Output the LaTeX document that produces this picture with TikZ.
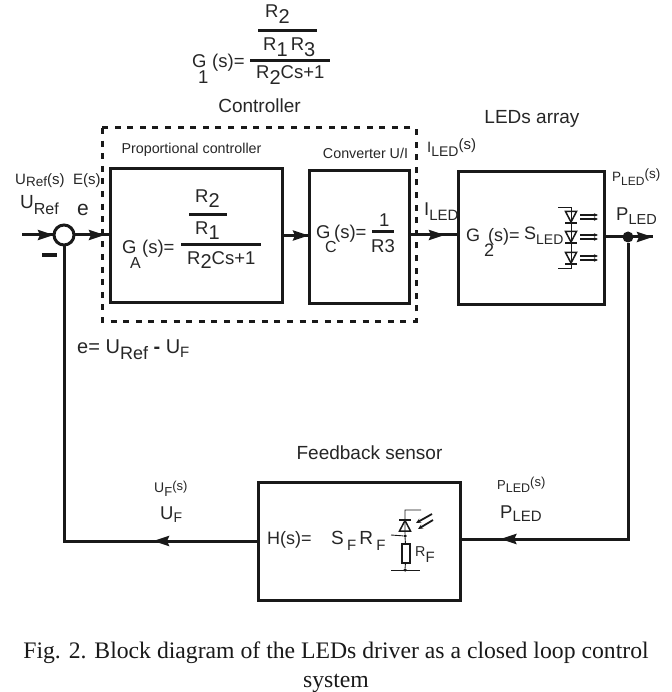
\documentclass[tikz,border=0pt]{standalone}
\usepackage{fontspec}
\setmainfont{Liberation Sans}
\newfontfamily\capfont{Liberation Serif}
\usetikzlibrary{arrows.meta, positioning, decorations.markings}

\newcommand{\fs}[1]{\fontsize{#1}{#1}\selectfont}
\newcommand{\dn}[3]{\raisebox{-#1pt}{\fs{#2}#3}}

\begin{document}
\begin{tikzpicture}[x=1pt, y=-1pt,
  block/.style={rectangle, draw=black!90, line width=3pt, outer sep=0pt, inner sep=0pt},
  wire/.style={draw=black!90, line width=3pt},
  tipat/.style={postaction={decorate}, decoration={markings,
    mark=at position #1 with {\arrow{Stealth[length=16pt,width=10pt,inset=2pt]}}}},
  txt/.style={inner sep=0pt, anchor=base west, text=black!85, font=\fs{18.5}},
  small/.style={txt, font=\fs{14.3}},
  bar/.style={fill=black!90, inner sep=0pt, minimum height=3pt},
  dot/.style={circle, fill=black!90, inner sep=0pt, minimum size=#1}
]
\useasboundingbox (0,0) rectangle (671,692);

% blocks
\node[block, minimum width=172pt, minimum height=133pt] (boxA) at (196,235.5) {};
\node[block, minimum width=100pt, minimum height=132pt, right=27pt of boxA, yshift=-1.5pt] (boxC) {};
\node[block, minimum width=146pt, minimum height=132pt, right=49pt of boxC, yshift=-1pt] (boxG) {};
\node[block, minimum width=202pt, minimum height=118pt] (boxH) at (359,541) {};
\node[circle, draw=black!90, line width=3pt, minimum size=20pt, inner sep=0pt, outer sep=0pt] (sum) at (64,235) {};
\node[dot=11pt] (jun) at (628,237) {};

% controller frame
\draw[line width=3pt, black!90, dash pattern=on 6pt off 6.6pt] (102,128) rectangle (416,321);

% connectors
\coordinate (uin) at (22,235);
\coordinate (iled) at (409,235);
\coordinate (plin) at (604,237);
\coordinate (pout) at (653,237);
\coordinate (hin) at (460,539);
\coordinate (hout) at (258,541);
\draw[wire, tipat=1] (uin) -- (sum);
\draw[wire, tipat=31pt] (sum) -- (sum -| boxA.west);
\draw[wire, tipat=1] (boxA.east) -- (boxA.east -| boxC.west);
\draw[wire, tipat=1] (iled) -- ++(36,0) coordinate (ilk);
\draw[wire] (ilk) -- (iled -| boxG.west);
\draw[wire, tipat=1] (plin) -- (pout);
\draw[wire, tipat=424pt] (jun) |- (hin);
\draw[wire, tipat=105pt] (hout) -| (sum);

% top transfer function
\node[txt] (g1) at (192,68) {G\kern-8.4pt\dn{16}{18.5}{1}\kern3.7pt(s)=};
\node[txt] (r2top) at (265,18) {R\dn{6}{20}{2}};
\node[bar, minimum width=59pt] (bar1) at (287.5,31) {};
\node[txt] (r1r3) at (263,51) {R\dn{6}{20}{1}\,R\dn{6}{20}{3}};
\node[bar, minimum width=80pt] (bar2) at (290,61) {};
\node[txt] (den1) at (256,79) {R\dn{6}{20}{2}Cs+1};
\node[txt, anchor=center, font=\fs{19}] (ctrl) at (259.5,106) {Controller};
\node[txt, anchor=center, font=\fs{19}] (ledarr) at (532,119) {LEDs array};
\node[txt, anchor=center, font=\fs{19}] (fbsens) at (369.5,453) {Feedback sensor};
\node[small, anchor=center] (prop) at (191.5,150) {Proportional controller};
\node[small, anchor=center] (conv) at (365.5,153) {Converter U/I};

% signals on the left
\node[small, font=\fs{15}] (urefs) at (15,185) {U\dn{2}{13.5}{Ref}(s)};
\node[small, font=\fs{15}] (es) at (73,185) {E(s)};
\node[txt, font=\fs{19}] (uref) at (20,209) {U\dn{6}{16}{Ref}};
\node[txt, font=\fs{21}] (esig) at (77,216) {e};
\node[bar, minimum width=15pt] (minus) at (49.5,255) {};
\node[txt, font=\fs{20}] (eeq) at (77,353) {e= U\dn{6}{18}{Ref} \textbf{-} U\dn{4}{15}{F}};

% block A
\node[txt] (ga) at (122,254) {G\kern-6.4pt\dn{14}{16}{A}\kern1.3pt(s)=};
\node[txt] (ar2) at (195,203) {R\dn{5}{20}{2}};
\node[bar, minimum width=38pt] (bara) at (208,215) {};
\node[txt] (ar1) at (195,235) {R\dn{5}{20}{1}};
\node[bar, minimum width=80pt] (barb) at (221,245) {};
\node[txt] (aden) at (187,264) {R\dn{5}{20}{2}Cs+1};

% block C
\node[txt] (gc) at (316,239) {G\kern-5.4pt\dn{14}{16}{C}\kern-2.6pt(s)=};
\node[txt] (c1) at (379,227) {1};
\node[bar, minimum width=22pt] (barc) at (383,232) {};
\node[txt] (cr3) at (371,253) {R3};

% currents and powers
\node[txt] (iledsig) at (424,216) {I\dn{5}{15}{LED}};
\node[txt, font=\fs{15}] (ileds) at (427,153) {I\dn{4}{14}{LED}\raisebox{3pt}{(s)}};
\node[small, font=\fs{13.5}] (pleds) at (612,182) {P\dn{4}{12}{LED}\raisebox{3pt}{(s)}};
\node[txt] (pledsig) at (616,221) {P\dn{4}{14.5}{LED}};

% block G2
\node[txt, font=\fs{18}] (g2) at (466,241) {G\kern4pt\dn{16}{18}{2}\kern-6pt(s)=};
\node[txt, font=\fs{18}] (sled) at (524,240) {S\dn{5}{14}{LED}};

% LEDs
\coordinate (ledtop) at (571,207);
\coordinate (ledbot) at (571,268);
\draw[line width=0.9pt, black!90] (558,207) -- (ledtop) -- (ledbot) -- (558,268);
\foreach \yy in {217,237,258} {
  \draw[line width=1.5pt, black!90] (565.5,\yy-5.5) -- (576.5,\yy-5.5) -- (571,\yy+5) -- cycle;
  \draw[line width=2.4pt, black!90] (565,\yy+6) -- (577,\yy+6);
  \foreach \dy in {-2,2}
    \draw[line width=1.3pt, black!90, -{Stealth[length=4pt,width=3.5pt]}] (580,\yy+\dy) -- (598,\yy+\dy);
}

% feedback block
\node[small, font=\fs{14}] (ufs) at (154,492) {U\dn{4}{13}{F}\raisebox{2pt}{\fs{13}(s)}};
\node[txt] (ufsig) at (160,519) {U\dn{3}{14}{F}};
\node[small, font=\fs{13}] (plfs) at (497,489) {P\dn{3}{12.5}{LED}\raisebox{3pt}{(s)}};
\node[txt] (plfsig) at (500,518) {P\dn{3}{15}{LED}};
\node[txt, font=\fs{18}] (hs) at (267,544) {H(s)=};
\node[txt, font=\fs{19}] (sfrf) at (331,544) {S\,\dn{6}{15}{F}\,R\,\dn{6}{15}{F}};
\node[small] (rf) at (415,556) {R\dn{6}{15}{F}};

% sensor
\node[dot=3.5pt] (sdot1) at (405,536) {};
\node[dot=3.5pt] (sdot2) at (405,570) {};
\node[draw=black!90, line width=1.1pt, minimum width=8pt, minimum height=19pt, inner sep=0pt, outer sep=0pt] (rsens) at (406,553.5) {};
\coordinate (stop) at (421,510);
\coordinate (sleft) at (391,535);
\coordinate (sgndl) at (391,570);
\coordinate (sgndr) at (420,570);
\draw[line width=0.9pt, black!90] (stop) -| (sdot1) -- (sleft);
\draw[line width=0.9pt, black!90] (sdot1) -- (rsens);
\draw[line width=0.9pt, black!90] (rsens) -- (sdot2);
\draw[line width=0.9pt, black!90] (sgndl) -- (sgndr);
\draw[line width=1.5pt, black!90] (399.5,531) -- (410.5,531) -- (405,520.5) -- cycle;
\draw[line width=2.2pt, black!90] (399,520) -- (411,520);
\draw[line width=1.8pt, black!90, -{Stealth[length=5pt,width=4.5pt]}] (432,514) -- (416,523);
\draw[line width=1.8pt, black!90, -{Stealth[length=5pt,width=4.5pt]}] (433,520) -- (418,529);

% caption
\node[inner sep=0pt, align=center, text=black!90, font=\capfont\fs{23.7}] (caption) at (336,667)
  {Fig. 2. Block diagram of the LEDs driver as a closed loop control\\[5pt]system};
\end{tikzpicture}
\end{document}
